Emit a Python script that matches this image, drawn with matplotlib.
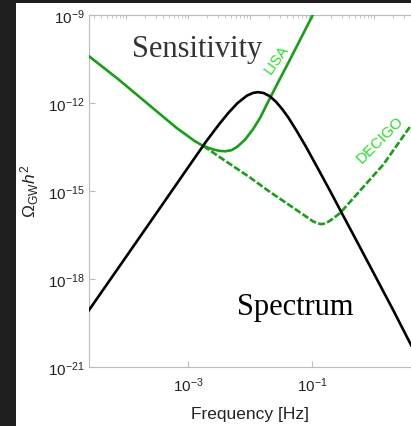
import matplotlib
matplotlib.use("Agg")
import matplotlib.pyplot as plt
from matplotlib.patches import Rectangle
from matplotlib.ticker import FixedLocator, LogLocator, NullLocator, NullFormatter
import numpy as np

plt.rcParams['font.family'] = ['Liberation Sans', 'DejaVu Sans']
plt.rcParams['mathtext.fontset'] = 'custom'
plt.rcParams['mathtext.rm'] = 'Liberation Sans'
plt.rcParams['mathtext.it'] = 'Liberation Sans:italic'
plt.rcParams['mathtext.bf'] = 'Liberation Sans:bold'

# log10 of frequency [Hz] and of Omega_GW h^2
spectrum_logf = [-4.60, -3.60, -3.00, -2.70, -2.50, -2.35, -2.20, -2.05, -1.95,
                 -1.87, -1.78, -1.68, -1.58, -1.48, -1.38, -1.25, -1.10, -0.90,
                 -0.70, -0.50, -0.25, 0.00, 0.30, 0.60]
spectrum_logo = [-19.07, -16.03, -14.20, -13.29, -12.73, -12.34, -12.00, -11.75,
                 -11.655, -11.63, -11.66, -11.77, -11.96, -12.21, -12.50, -12.94,
                 -13.48, -14.25, -15.03, -15.83, -16.82, -17.82, -19.02, -20.26]

lisa_logf = [-4.60, -4.13, -3.66, -3.19, -2.89, -2.75, -2.60, -2.50, -2.40,
             -2.30, -2.21, -2.08, -1.95, -1.83, -1.73, -1.56, -1.36, -0.98]
lisa_logo = [-10.40, -11.18, -12.01, -12.84, -13.30, -13.47, -13.58, -13.63,
             -13.645, -13.61, -13.50, -13.25, -12.89, -12.48, -12.05, -11.35,
             -10.54, -8.97]

decigo_logf = [-2.75, -2.40, -2.00, -1.68, -1.31, -0.98, -0.90, -0.84, -0.78,
               -0.70, -0.55, -0.23, 0.15, 0.60]
decigo_logo = [-13.47, -13.97, -14.54, -15.03, -15.56, -16.04, -16.11, -16.13,
               -16.10, -16.00, -15.76, -15.00, -14.10, -12.75]

x_ticks = [1e-3, 1e-1]
x_ticklabels = [r'$10^{-3}$', r'$10^{-1}$']
y_ticks = [1e-21, 1e-18, 1e-15, 1e-12, 1e-9]
y_ticklabels = [r'$10^{-21}$', r'$10^{-18}$', r'$10^{-15}$', r'$10^{-12}$', r'$10^{-9}$']

W, H = 411, 427
fig = plt.figure(figsize=(W / 100, H / 100), dpi=100, facecolor='#1e1e1e')
fig.patches.append(Rectangle((16 / W, 0), 1, 1 - 4 / H, transform=fig.transFigure,
                             facecolor='white', edgecolor='none', zorder=-1))

ax = fig.add_axes([89 / W, 59 / H, (W - 89) / W, 352 / H])
ax.set_xscale('log')
ax.set_yscale('log')
ax.set_xlim(10 ** -4.597, 10 ** 0.597)
ax.set_ylim(1e-21, 1e-9)

green = '#16a016'
label_green = '#22e022'

ax.plot(10.0 ** np.array(lisa_logf), 10.0 ** np.array(lisa_logo),
        color=green, lw=1.9, solid_joinstyle='round', zorder=3)
ax.plot(10.0 ** np.array(decigo_logf), 10.0 ** np.array(decigo_logo),
        color=green, lw=1.9, ls=(0, (2.6, 0.9)), zorder=3)
ax.plot(10.0 ** np.array(spectrum_logf), 10.0 ** np.array(spectrum_logo),
        color='black', lw=1.9, solid_joinstyle='round', zorder=4)

# axis styling
spine_col = '#bcbcbc'
for side in ['left', 'bottom', 'top']:
    ax.spines[side].set_color(spine_col)
    ax.spines[side].set_linewidth(0.8)
ax.spines['right'].set_visible(False)

ax.xaxis.set_major_locator(FixedLocator(x_ticks))
ax.xaxis.set_minor_locator(NullLocator())
ax.set_xticklabels(x_ticklabels)
ax.yaxis.set_major_locator(FixedLocator(y_ticks))
ax.yaxis.set_minor_locator(NullLocator())
ax.set_yticklabels(y_ticklabels)
ax.tick_params(axis='both', which='major', direction='in', length=4, width=0.8,
               color=spine_col, labelsize=11, labelcolor='#222222')
ax.tick_params(axis='x', pad=6)
ax.tick_params(axis='y', pad=3)

# top axis: every decade with minor ticks, unlabeled
top = ax.secondary_xaxis('top')
top.xaxis.set_major_locator(LogLocator(base=10, numticks=20))
top.xaxis.set_minor_locator(LogLocator(base=10, subs=np.arange(2, 10), numticks=20))
top.xaxis.set_minor_formatter(NullFormatter())
top.tick_params(which='major', direction='in', length=3, width=0.8, color=spine_col,
                labeltop=False)
top.tick_params(which='minor', direction='in', length=2, width=0.6, color=spine_col)
top.spines['top'].set_color(spine_col)
top.spines['top'].set_linewidth(0.8)

ax.set_xlabel('Frequency [Hz]', fontsize=12.5, color='#222222', labelpad=9)
fig.text(30 / W, 1 - 191 / H, r'$\Omega_{\rm GW}h^2$', rotation=90, fontsize=12.5,
         ha='center', va='center', color='#222222')

ax.text((197 - 89) / (W - 89), 1 - (57 - 16) / 352, 'Sensitivity',
        transform=ax.transAxes, family='Liberation Serif', fontsize=22,
        color='#333333', ha='center', va='baseline')
ax.text((295 - 89) / (W - 89), 1 - (315 - 16) / 352, 'Spectrum',
        transform=ax.transAxes, family='Liberation Serif', fontsize=22,
        color='black', ha='center', va='baseline')
ax.text((277 - 89) / (W - 89), 1 - (60 - 16) / 352, 'LISA',
        transform=ax.transAxes, fontsize=10.5, color=label_green,
        rotation=55, ha='center', va='center', rotation_mode='anchor')
ax.text((380 - 89) / (W - 89), 1 - (140 - 16) / 352, 'DECIGO',
        transform=ax.transAxes, fontsize=11, color=label_green,
        rotation=45, ha='center', va='center', rotation_mode='anchor')

fig.savefig('out.png', dpi=100, facecolor=fig.get_facecolor())
